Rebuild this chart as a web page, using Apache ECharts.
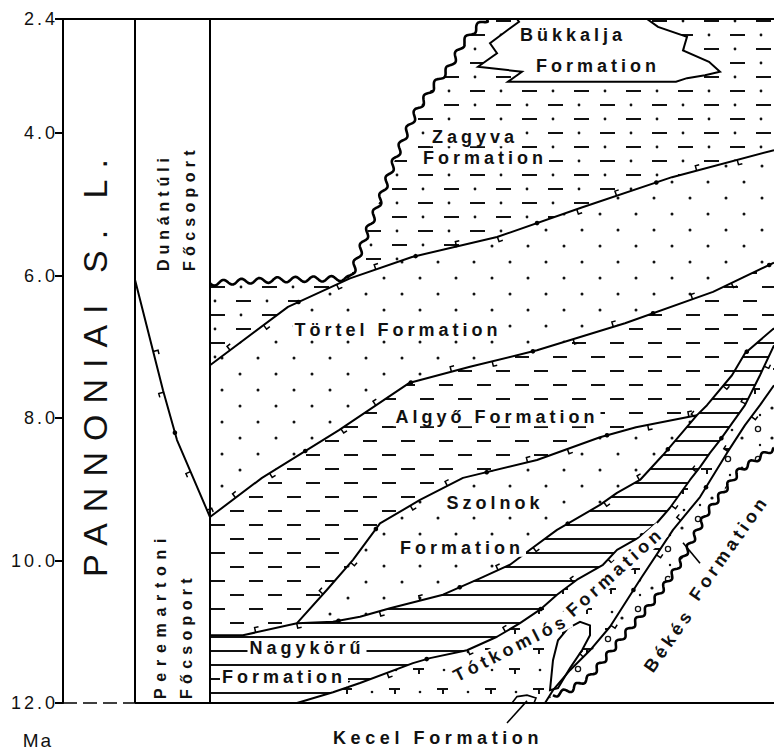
<!DOCTYPE html>
<html>
<head>
<meta charset="utf-8">
<title>Pannonian lithostratigraphy</title>
<script src="https://cdn.jsdelivr.net/npm/echarts@6.0.0/dist/echarts.min.js"></script>
<style>
html,body{margin:0;padding:0;background:#fff;}
#main{width:774px;height:751px;}
</style>
</head>
<body>
<div id="main"></div>
<script>
// ---------------- DATA ----------------
// vertical axis: age in Ma; horizontal: distance along the section (arbitrary units)
const AGE_TICKS = [2.4, 4, 6, 8, 10, 12];
const AGE_MIN = 2.4, AGE_MAX = 12;
const DIST_MIN = 63, DIST_MAX = 774;
const COLUMN_DIVIDERS = [135, 210];

// boundaries: [distance, age]
const unconformity = [[210,6.11],[245,6.08],[280,6.06],[315,6.05],[350,6.04],[367,5.40],[380,4.94],[392,4.48],[403,4.10],[417,3.68],[433,3.35],[450,3.07],[463,2.74],[477,2.51],[487,2.40]];
const zagyvaBase = [[210,7.26],[288,6.44],[350,6.04],[412,5.74],[497,5.46],[581,5.05],[672,4.62],[774,4.24]];
const tortelBase = [[210,9.39],[262,8.84],[339,8.17],[409,7.51],[470,7.28],[537,7.05],[625,6.67],[713,6.23],[774,5.82]];
const algyoBase = [[297,10.88],[327,10.41],[353,9.99],[380,9.48],[420,9.15],[463,8.84],[537,8.59],[600,8.27],[636,8.13],[697,7.96]];
const nagykoruTop = [[210,11.05],[243,11.05],[297,10.88]];
const szolnokBase = [[297,10.88],[333,10.86],[360,10.79],[390,10.67],[443,10.48],[480,10.25],[510,10.06],[530,9.85],[557,9.57],[600,9.22],[617,9.05],[640,8.87],[663,8.52],[697,7.96],[707,7.82],[732,7.40],[745,7.09],[774,6.74]];
const bandBase = [[297,12.0],[333,11.85],[360,11.72],[413,11.44],[430,11.37],[467,11.26],[497,11.07],[520,10.88],[540,10.69],[557,10.48],[577,10.27],[603,10.06],[617,9.85],[640,9.67],[657,9.47],[670,9.26],[690,8.87],[700,8.69],[710,8.49],[720,8.31],[745,7.82],[760,7.40],[774,6.98]];
const totkomlosBase = [[545,12.0],[553,11.82],[570,11.54],[590,11.26],[610,10.93],[640,10.27],[673,9.57],[700,9.11],[727,8.49],[745,8.10],[760,7.82],[774,7.54]];
const bekesBoundary = [[553,11.89],[570,11.82],[590,11.63],[623,11.07],[657,10.51],[680,10.04],[707,9.33],[740,8.73],[774,8.42]];
const peremartonTop = [[135,6.06],[163,7.61],[177,8.31],[210,9.39]];
const bukkaljaLens = [[517,2.40],[519,2.44],[508,2.55],[490,2.74],[497,2.88],[478,3.07],[522,3.14],[508,3.28],[676,3.28],[687,3.23],[705,3.19],[720,3.14],[709,3.00],[683,2.84],[687,2.65],[658,2.51],[647,2.40]];
const totkomlosLens = [[550,11.82],[553,11.40],[558,11.12],[568,10.95],[580,10.86],[590,10.91],[590,11.05],[582,11.26],[570,11.51],[558,11.79]];
const kecelLens = [[512,12.0],[517,11.91],[527,11.89],[536,11.93],[534,12.0]];
const kecelLeader = [[527,11.97],[507,12.28]];
const bekesLeader = [[683,9.75],[700,10.04]];

// formation labels
const labelTexts = ['Bükkalja','Formation','Zagyva','Formation','Törtel Formation','Algyő Formation','Szolnok','Formation','Nagykörű','Formation','Tótkomlós','Formation','Békés','Formation','Kecel Formation'];
const labelDist  = [573,598,475,485,398,497,495,462,307,284,511,615,669,729,438];
const labelAge   = [2.62,3.06,4.06,4.35,6.77,7.99,9.19,9.82,11.23,11.64,11.23,10.16,11.12,9.82,12.49];
const labelAngle = [0,0,0,0,0,0,0,0,0,0,27,42,55,55,0];

// ---------------- PATTERNS ----------------
function pattern(w, h, draw) {
  const c = document.createElement('canvas'); c.width = w; c.height = h;
  const g = c.getContext('2d');
  g.fillStyle = '#fff'; g.fillRect(0, 0, w, h);
  g.fillStyle = '#111'; g.strokeStyle = '#111';
  draw(g);
  return {image: c.toDataURL(), repeat: 'repeat', imageWidth: w, imageHeight: h};
}
function dot(g, x, y, r) { g.beginPath(); g.arc(x, y, r, 0, Math.PI * 2); g.fill(); }
const DOTS = pattern(36, 32, g => { dot(g, 6, 6, 1.5); dot(g, 24, 22, 1.5); });
const DASHES = pattern(38, 28, g => { g.fillRect(2, 6, 14, 2); g.fillRect(21, 20, 14, 2); });
const DASHDOT = pattern(52, 28, g => { g.fillRect(2, 6, 15, 2); dot(g, 33, 7, 1.4); g.fillRect(28, 20, 15, 2); dot(g, 7, 21, 1.4); });
const HLINES = pattern(8, 14, g => { g.fillRect(0, 6, 8, 2); });
const TMARKS = pattern(48, 40, g => { g.fillRect(5, 8, 11, 2); g.fillRect(10, 8, 2, 6); g.fillRect(29, 28, 11, 2); g.fillRect(34, 28, 2, 6); dot(g, 36, 12, 1.3); dot(g, 12, 30, 1.3); });
const CONGLO = pattern(30, 30, g => { g.lineWidth = 1.3; g.beginPath(); g.arc(8, 9, 2.6, 0, Math.PI * 2); g.stroke(); dot(g, 22, 18, 1.6); dot(g, 10, 25, 1.2); });

// ---------------- REGIONS ----------------
const rev = a => a.slice().reverse();
const last = a => a[a.length - 1];
const junction = szolnokBase.findIndex(p => p[0] === last(algyoBase)[0]);
const regions = [
  {pts: [...unconformity, [DIST_MAX, AGE_MIN], ...rev(zagyvaBase)], fill: DASHDOT},
  {pts: [...zagyvaBase, ...rev(tortelBase)], fill: DOTS},
  {pts: [...tortelBase, ...rev(szolnokBase.slice(junction)), ...rev(algyoBase), ...rev(nagykoruTop)], fill: DASHES},
  {pts: [...algyoBase, ...rev(szolnokBase.slice(0, junction + 1))], fill: DOTS},
  {pts: [...nagykoruTop, ...szolnokBase.slice(1), ...rev(bandBase), [COLUMN_DIVIDERS[1], AGE_MAX]], fill: HLINES},
  {pts: [...bandBase, ...rev(totkomlosBase)], fill: TMARKS},
  {pts: [...totkomlosBase, ...rev(bekesBoundary)], fill: CONGLO},
  {pts: bukkaljaLens, fill: '#fff', stroke: '#000', width: 2},
  {pts: totkomlosLens, fill: '#fff', stroke: '#000', width: 2},
  {pts: kecelLens, fill: '#fff', stroke: '#000', width: 1.6}
];

// ---------------- LINES ----------------
const lines = [
  {pts: unconformity, wave: [2.6, 18], width: 2.6},
  {pts: zagyvaBase, width: 2, teeth: true},
  {pts: tortelBase, width: 2, teeth: true},
  {pts: algyoBase, width: 2, teeth: true},
  {pts: [...nagykoruTop, ...szolnokBase.slice(1)], width: 2, teeth: true},
  {pts: bandBase, width: 2, teeth: true},
  {pts: totkomlosBase, width: 2, teeth: true},
  {pts: bekesBoundary, wave: [2.4, 15], width: 2.6},
  {pts: peremartonTop, width: 2, teeth: true},
  {pts: kecelLeader, width: 1.6},
  {pts: bekesLeader, width: 1.6},
  {pts: [[DIST_MIN, AGE_MIN], [DIST_MAX, AGE_MIN]], width: 2},
  {pts: [[COLUMN_DIVIDERS[0], AGE_MAX], [DIST_MAX, AGE_MAX]], width: 2},
  {pts: [[DIST_MIN, AGE_MAX], [COLUMN_DIVIDERS[0], AGE_MAX]], width: 1.6, dash: [14, 6]},
  {pts: [[COLUMN_DIVIDERS[0], AGE_MIN], [COLUMN_DIVIDERS[0], AGE_MAX]], width: 2},
  {pts: [[COLUMN_DIVIDERS[1], AGE_MIN], [COLUMN_DIVIDERS[1], AGE_MAX]], width: 2}
];

function wavy(pts, amp, wl) {
  const out = []; let s = 0;
  for (let i = 0; i < pts.length - 1; i++) {
    const [x0, y0] = pts[i], [x1, y1] = pts[i + 1];
    const dx = x1 - x0, dy = y1 - y0, L = Math.hypot(dx, dy);
    if (!L) continue;
    const nx = -dy / L, ny = dx / L, n = Math.ceil(L);
    for (let k = 0; k < n; k++) {
      const t = k / n, o = amp * Math.sin(2 * Math.PI * (s + t * L) / wl);
      out.push([x0 + dx * t + nx * o, y0 + dy * t + ny * o]);
    }
    s += L;
  }
  out.push(last(pts));
  return out;
}

// small interfingering hooks drawn along a facies boundary (pure decoration)
function hooks(pts, step, start) {
  const out = []; let s = 0, next = start, k = 0;
  for (let i = 0; i < pts.length - 1; i++) {
    const [x0, y0] = pts[i], [x1, y1] = pts[i + 1];
    const dx = x1 - x0, dy = y1 - y0, L = Math.hypot(dx, dy);
    if (!L) continue;
    const tx = dx / L, ty = dy / L;
    while (next <= s + L) {
      const t = (next - s) / L, px = x0 + dx * t, py = y0 + dy * t;
      const side = (k % 2) ? 1 : -1;
      const nx = -ty * side, ny = tx * side;
      if (k % 3 === 2) {
        out.push({type: 'circle', shape: {cx: px, cy: py, r: 2.3}, style: {fill: '#000'}});
      } else {
        out.push({type: 'polyline', shape: {points: [[px, py], [px + nx * 5, py + ny * 5], [px + nx * 5 + tx * 4, py + ny * 5 + ty * 4]]},
          style: {fill: null, stroke: '#000', lineWidth: 1.5}});
      }
      k++; next += step;
    }
    s += L;
  }
  return out;
}

const FORMATION_SPACING = 4;
const SPACING = {'PANNONIAI S. L.': 11, 'Dunántúli': 4.9, 'Főcsoport': 5.3, 'Peremartoni': 6.7, 'Ma': 2, 'Kecel Formation': 4.6};

const option = {
  animation: false,
  backgroundColor: '#fff',
  grid: {left: 63, right: 0, top: 19, bottom: 48, containLabel: false, outerBoundsMode: 'none'},
  xAxis: {type: 'value', min: DIST_MIN, max: DIST_MAX, show: false},
  yAxis: {
    type: 'value', inverse: true, min: AGE_MIN, max: AGE_MAX,
    axisLine: {show: true, lineStyle: {color: '#000', width: 2}},
    axisTick: {show: true, customValues: AGE_TICKS, length: 8, lineStyle: {color: '#000', width: 2}},
    axisLabel: {customValues: AGE_TICKS, formatter: v => Number(v).toFixed(1), fontSize: 18, fontFamily: 'Liberation Sans', color: '#111', margin: 5},
    splitLine: {show: false}
  },
  graphic: [
    {type: 'text', x: 95, y: 577, rotation: Math.PI / 2, style: {text: 'PANNONIAI S. L.', font: '34px "Liberation Sans"', fill: '#111', align: 'left', verticalAlign: 'middle'}},
    {type: 'text', x: 163, y: 271, rotation: Math.PI / 2, style: {text: 'Dunántúli', font: 'bold 16px "Liberation Sans"', fill: '#111', align: 'left', verticalAlign: 'middle'}},
    {type: 'text', x: 189, y: 271, rotation: Math.PI / 2, style: {text: 'Főcsoport', font: 'bold 16px "Liberation Sans"', fill: '#111', align: 'left', verticalAlign: 'middle'}},
    {type: 'text', x: 160, y: 699, rotation: Math.PI / 2, style: {text: 'Peremartoni', font: 'bold 16px "Liberation Sans"', fill: '#111', align: 'left', verticalAlign: 'middle'}},
    {type: 'text', x: 186, y: 699, rotation: Math.PI / 2, style: {text: 'Főcsoport', font: 'bold 16px "Liberation Sans"', fill: '#111', align: 'left', verticalAlign: 'middle'}},
    {type: 'text', x: 38, y: 740, style: {text: 'Ma', font: '19px "Liberation Sans"', fill: '#111', align: 'center', verticalAlign: 'middle'}}
  ],
  series: [
    {
      type: 'custom', name: 'units', z: 1, silent: true,
      data: regions.map(r => r.pts[0]),
      renderItem: (params, api) => {
        const r = regions[params.dataIndex];
        return {type: 'polygon', shape: {points: r.pts.map(p => api.coord(p))},
          style: {fill: r.fill, stroke: r.stroke || null, lineWidth: r.width || 0}};
      }
    },
    {
      type: 'custom', name: 'boundaries', z: 3, silent: true,
      data: lines.map(l => l.pts[0]),
      renderItem: (params, api) => {
        const l = lines[params.dataIndex];
        let px = l.pts.map(p => api.coord(p));
        const children = [];
        if (l.teeth) children.push(...hooks(px, 42, 18 + params.dataIndex * 7));
        if (l.wave) px = wavy(px, l.wave[0], l.wave[1]);
        children.push({type: 'polyline', shape: {points: px},
          style: {fill: null, stroke: '#000', lineWidth: l.width, lineDash: l.dash || null, lineJoin: 'round'}});
        return {type: 'group', children};
      }
    },
    {
      type: 'custom', name: 'labels', z: 5, silent: true,
      data: labelTexts.map((t, i) => [labelDist[i], labelAge[i]]),
      renderItem: (params, api) => {
        const i = params.dataIndex, t = labelTexts[i];
        const p = api.coord([labelDist[i], labelAge[i]]);
        const sp = SPACING[t] != null ? SPACING[t] : FORMATION_SPACING;
        const bg = t !== 'Kecel Formation';
        return {type: 'text', x: p[0], y: p[1], rotation: labelAngle[i] * Math.PI / 180,
          style: {text: t, font: 'bold 18px "Liberation Sans"', fill: '#111', align: 'center', verticalAlign: 'middle',
            backgroundColor: bg ? '#fff' : null, padding: [0, 2 + sp * t.length / 2]}};
      }
    }
  ]
};

const chart = echarts.init(document.getElementById('main'), null, {renderer: 'svg', width: 774, height: 751});
chart.setOption(option);

function applySpacing() {
  document.querySelectorAll('#main svg text').forEach(el => {
    const s = el.textContent.trim();
    let v = SPACING[s];
    if (v == null) v = /^\d+\.\d$/.test(s) ? 3 : FORMATION_SPACING;
    el.style.letterSpacing = v + 'px';
  });
}
applySpacing();
chart.on('finished', applySpacing);
setTimeout(applySpacing, 30);
</script>
</body>
</html>
